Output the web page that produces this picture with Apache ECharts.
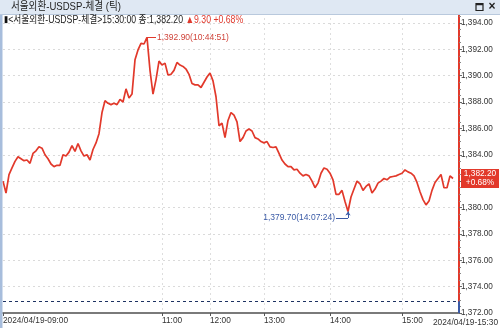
<!DOCTYPE html>
<html><head><meta charset="utf-8">
<script src="https://cdn.jsdelivr.net/npm/echarts@6/dist/echarts.min.js"></script>
<style>html,body{margin:0;padding:0;background:#fff;overflow:hidden}#c{width:500px;height:328px}</style>
</head><body><div id="c"></div>
<script>
// ---- data ----
const prices = [
 1382.0,1381.1,1382.5,1383.0,1383.5,1383.85,1383.7,1383.55,1383.6,1383.35,
 1384.1,1384.3,1384.6,1384.5,1384.0,1383.7,1383.3,1383.1,1383.2,1383.2,
 1384.0,1383.9,1384.2,1384.7,1384.25,1384.85,1384.3,1383.9,1384.0,1383.6,
 1384.4,1384.9,1385.6,1387.2,1388.1,1387.9,1387.8,1387.9,1387.8,1388.2,
 1388.0,1389.0,1388.3,1388.6,1391.2,1391.95,1392.45,1392.4,1392.9,1390.4,
 1388.6,1389.7,1391.1,1390.8,1390.95,1390.05,1390.1,1390.4,1391.0,1390.8,
 1390.7,1390.5,1390.1,1389.4,1389.3,1389.3,1389.1,1389.5,1389.9,1390.2,
 1389.6,1388.4,1386.2,1386.4,1385.3,1386.6,1387.2,1387.0,1386.5,1385.0,
 1385.3,1385.8,1385.95,1385.8,1385.3,1385.2,1385.0,1384.9,1385.0,1384.6,
 1384.55,1384.6,1384.1,1383.6,1383.3,1383.1,1383.1,1382.85,1382.9,1382.6,
 1382.4,1382.5,1382.4,1382.0,1381.5,1381.85,1382.6,1383.0,1382.9,1382.6,
 1382.1,1381.0,1381.0,1381.3,1380.45,1379.7,1380.8,1381.4,1382.0,1381.8,
 1381.3,1381.6,1381.8,1381.1,1381.4,1381.85,1382.0,1382.2,1382.1,1382.3,
 1382.35,1382.4,1382.5,1382.6,1382.85,1382.7,1382.6,1382.4,1381.9,1381.2,
 1380.6,1380.2,1380.5,1381.3,1381.9,1382.2,1382.5,1381.5,1381.5,1382.4,
 1382.2
];
const axisSlots = 153;                       // tick slots on the x axis
const hourLabels = ['2024/04/19-09:00','11:00','12:00','13:00','14:00','15:00'];
const hourTickIndex = [0,53,69,87,109,133];  // tick number where each hour starts
const endLabel = '2024/04/19-15:30';
const prevClose = 1372.90;
const lastPrice = 1382.20;
const change = 9.30;
const changePct = 0.68;
const highTime = '10:44:51';
const lowTime = '14:07:24';
const yMin = 1372, yMax = 1394.75, yStep = 2;

// ---- helpers ----
function fmt(v){
  const s = v.toFixed(2).split('.');
  return s[0].replace(/\B(?=(\d{3})+(?!\d))/g, ',') + '.' + s[1];
}
const categories = Array.from({length: axisSlots}, (_, i) => String(i));
const isMark = i => hourTickIndex.indexOf(i) >= 0;
let iMax = 0, iMin = 0;
prices.forEach((v, i) => { if (v > prices[iMax]) iMax = i; if (v < prices[iMin]) iMin = i; });
const vMax = prices[iMax], vMin = prices[iMin];

const FONT = "'Liberation Sans','Noto Sans CJK KR',sans-serif";
const HFONT = "'Liberation Sans','Noto Sans CJK KR',sans-serif";
const RED = '#e2392b', BLUE = '#3a5aa6';

const chart = echarts.init(document.getElementById('c'), null, {renderer: 'canvas'});
chart.setOption({
  animation: false,
  backgroundColor: '#fff',
  textStyle: {fontFamily: FONT},
  grid: {left: 3, right: 41, top: 13, bottom: 15, containLabel: false},
  xAxis: {
    type: 'category', data: categories, boundaryGap: false,
    axisLine: {lineStyle: {color: '#7a7a7a', width: 2}},
    axisTick: {show: true, interval: (i) => isMark(i), length: 3, lineStyle: {color: '#555'}},
    axisLabel: {
      interval: (i) => isMark(i), align: 'left', margin: 4, fontSize: 8.3, color: '#333',
      fontFamily: FONT,
      formatter: (v, i) => { const k = hourTickIndex.indexOf(i); return k >= 0 ? hourLabels[k] : ''; }
    },
    splitLine: {show: true, interval: (i) => isMark(i) && i > 0, lineStyle: {type: [2, 3], color: '#dedede'}}
  },
  yAxis: {
    type: 'value', position: 'right', min: yMin, max: yMax, interval: yStep,
    axisLine: {show: true, lineStyle: {color: RED, width: 2}},
    axisTick: {show: true, length: 3, lineStyle: {color: '#666'}},
    minorTick: {show: true, splitNumber: 4, length: 2, lineStyle: {color: '#888'}},
    axisLabel: {margin: 2, fontSize: 8.2, color: '#333', fontFamily: FONT,
      formatter: v => (Math.abs(v % yStep) < 1e-6 ? fmt(v) : '')},
    splitLine: {show: true, lineStyle: {type: [2, 3], color: '#dadada'}}
  },
  series: [{
    type: 'line', data: prices, symbol: 'none', showSymbol: false,
    lineStyle: {color: RED, width: 1.7}, itemStyle: {color: RED},
    markLine: {
      silent: true, symbol: ['none', 'none'], animation: false,
      data: [
        {yAxis: prevClose, lineStyle: {type: [3, 3], color: '#1d3262', width: 1}, label: {show: false}},
        [{coord: [axisSlots - 1, yMin]}, {coord: [axisSlots - 1, prevClose]},],
        [{coord: [iMax, vMax], lineStyle: {color: RED, width: 1, type: 'solid'},
          label: {show: true, position: 'end', distance: 1, color: '#d0453b', fontSize: 8.5, fontFamily: FONT,
                  formatter: fmt(vMax) + '(' + highTime + ')'}},
         {coord: [iMax + 3, vMax]}],
        [{coord: [iMin, vMin - 0.5], lineStyle: {color: BLUE, width: 1, type: 'solid'}, label: {show: false}},
         {coord: [iMin, vMin], symbol: 'arrow', symbolSize: 4}],
        [{coord: [iMin, vMin - 0.5], lineStyle: {color: BLUE, width: 1, type: 'solid'},
          label: {show: true, position: 'end', distance: 1, color: BLUE, fontSize: 8.5, fontFamily: FONT,
                  formatter: fmt(vMin) + '(' + lowTime + ')'}},
         {coord: [iMin - 4, vMin - 0.5]}]
      ],
      lineStyle: {color: BLUE, width: 2, type: 'solid'},
      label: {show: false}
    },
    markPoint: {
      silent: true, animation: false,
      data: [{
        coord: [axisSlots - 1, lastPrice], symbol: 'rect', symbolSize: [38, 19], symbolOffset: [21, 0],
        itemStyle: {color: RED},
        label: {show: true, position: 'inside', color: '#fff', fontSize: 8.3, lineHeight: 9, fontFamily: FONT,
                formatter: fmt(lastPrice) + '\n+' + changePct.toFixed(2) + '%'}
      }]
    }
  }],
  graphic: [
    {type: 'rect', shape: {x: 0, y: 0, width: 500, height: 14}, style: {fill: '#dfe8f3'}, z: 10},
    {type: 'line', shape: {x1: 0, y1: 14.5, x2: 500, y2: 14.5}, style: {stroke: '#b9c9dd', lineWidth: 1}, z: 10},
    {type: 'text', x: 11, y: 7, scaleX: 0.87, z: 11, style: {text: '서울외환-USDSP-체결 (틱)', fontSize: 11, fontFamily: HFONT,
      fill: '#222', verticalAlign: 'middle'}},
    {type: 'rect', shape: {x: 476, y: 3.5, width: 7, height: 7}, style: {fill: 'none', stroke: '#222', lineWidth: 1.2}, z: 11},
    {type: 'line', shape: {x1: 476, y1: 4.5, x2: 483, y2: 4.5}, style: {stroke: '#222', lineWidth: 1.5}, z: 11},
    {type: 'text', x: 492, y: 7, z: 11, style: {text: '×', fontSize: 12, fontWeight: 'bold', fontFamily: FONT,
      fill: '#222', align: 'center', verticalAlign: 'middle'}},
    {type: 'rect', shape: {x: 0, y: 15, width: 2.5, height: 313}, style: {fill: '#a7bddc'}, z: 10},
    {type: 'text', x: 4, y: 20, scaleX: 0.83, z: 11, style: {
      text: '{b|▮}{t|<서울외환-USDSP-체결>15:30:00 종:' + fmt(lastPrice) + ' }{r|▲' + change.toFixed(2) + ' +' + changePct.toFixed(2) + '%}',
      verticalAlign: 'middle', fontFamily: HFONT,
      rich: {b: {fontSize: 9, fill: '#111'}, t: {fontSize: 10.5, fill: '#222', fontFamily: HFONT},
             r: {fontSize: 10.5, fill: '#e0392d', fontFamily: HFONT}}}},
    {type: 'text', right: 2, bottom: 1, z: 11, style: {text: endLabel, fontSize: 8.3, fontFamily: FONT, fill: '#333'}}
  ]
});
</script>
</body></html>
